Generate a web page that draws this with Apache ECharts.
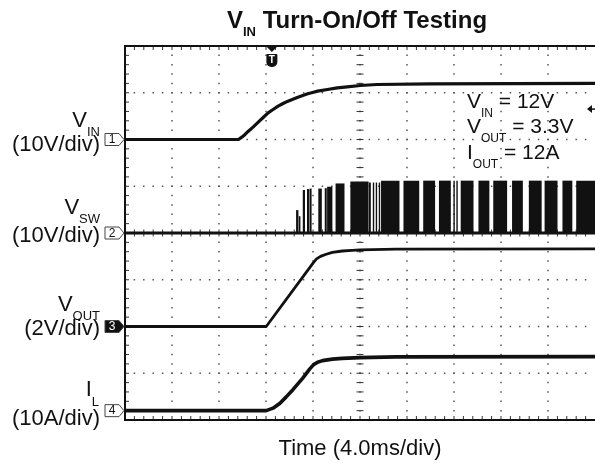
<!DOCTYPE html>
<html><head><meta charset="utf-8">
<script src="https://cdn.jsdelivr.net/npm/echarts@6/dist/echarts.min.js"></script>
<style>html,body{margin:0;padding:0;background:#fff}#c{width:595px;height:465px}</style>
</head><body><div id="c"></div>
<script>
// ---- data (time in ms, 4.0 ms/div) ----
const vinTime  = [0, 9.66, 9.94, 10.22, 10.5, 10.92, 11.34, 11.76, 12.18, 12.6, 13.03, 13.45, 13.87, 14.29, 14.71, 15.13, 15.55, 15.97, 16.39, 17.23, 18.07, 18.91, 20.03, 21.43, 26, 40];
const vinVolts = [0, 0, 0.5, 1.07, 1.78, 2.71, 3.71, 4.71, 5.7, 6.42, 7.13, 7.7, 8.2, 8.63, 9.06, 9.41, 9.77, 10.05, 10.34, 10.7, 11.05, 11.27, 11.55, 11.76, 11.9, 12.0];

const voutTime  = [0, 12.02, 16.05, 16.3, 16.64, 17.06, 17.65, 18.49, 19.33, 20.0, 23.1, 40];
const voutVolts = [0, 0, 2.74, 2.89, 3.0, 3.08, 3.17, 3.23, 3.26, 3.28, 3.31, 3.32];

const ilTime = [0, 12.02, 12.6, 13.19, 13.7, 14.29, 15.13, 15.71, 16.05, 16.39, 16.81, 17.65, 18.49, 20.0, 23.1, 40];
const ilAmps = [0, 0, 0.53, 1.6, 2.89, 4.49, 6.95, 8.88, 9.84, 10.37, 10.7, 11.02, 11.19, 11.34, 11.51, 11.55];

// switching node bursts: [start ms, end ms, volts]
const vswPulses = [
  [14.56,14.76,4.9],[14.79,14.93,3.6],
  [15.13,15.32,9.2],
  [15.49,15.69,9.4],[15.72,15.88,9.5],
  [16.45,16.75,9.5],
  [17.0,17.17,9.6],[17.2,17.65,9.9],
  [17.92,18.68,10.6],
  [19.18,20.73,11.0],
  [20.76,20.92,10.8],[21.09,21.18,10.8],[21.34,21.43,10.8],[21.6,21.68,10.8],
  [21.79,23.36,11.2],
  [23.70,25.04,11.2],
  [25.38,26.39,11.2],
  [26.72,27.73,11.2],
  [27.95,28.03,11.2],[28.2,28.28,11.2],
  [28.57,29.66,11.2],
  [30.08,31.01,11.2],
  [31.34,32.52,11.2],
  [32.94,33.86,11.2],
  [34.37,35.46,11.2],
  [35.71,36.81,11.2],
  [37.23,38.07,11.2],
  [38.40,40,11.2]
];

// channel settings: [offset in divisions, units per division]
const chVin  = [6, 10];
const chVsw  = [4, 10];
const chVout = [2, 2];
const chIl   = [0.2, 10];
const triggerTime = 12.5;
const triggerLevelDiv = 6.65;

const FONT = '"Liberation Sans", Arial, Helvetica, sans-serif';
const INK = '#111';

function toDiv(times, vals, ch){ return times.map((t,i)=>[t, ch[0] + vals[i]/ch[1]]); }

const mc = document.createElement('canvas').getContext('2d');
function tw(text, size, weight){ mc.font = (weight||'normal') + ' ' + size + 'px ' + FONT; return mc.measureText(text).width; }
function rich(parts, x, y, align){
  const total = parts.reduce((s,p)=>s+tw(p.t,p.s,p.w),0);
  let cx = align==='right' ? x-total : align==='center' ? x-total/2 : x;
  return parts.map(p=>{
    const el = {type:'text', z:20, silent:true, style:{text:p.t, x:cx, y:y+(p.dy||0),
      font:(p.w||'normal')+' '+p.s+'px '+FONT, textAlign:'left', textVerticalAlign:'middle',
      align:'left', verticalAlign:'middle', fill:INK}};
    cx += tw(p.t,p.s,p.w);
    return el;
  });
}

function graticule(params, api){
  const bl = api.coord([0,0]), tr = api.coord([40,8]);
  const x0=bl[0], yb=bl[1], x1=tr[0], yt=tr[1];
  const dx=(x1-x0)/10, dy=(yb-yt)/8;
  const ch=[];
  const dot='#555';
  for(let i=1;i<10;i++){ const x=x0+i*dx;
    for(let k=1;k<40;k++){ const y=yt+k*dy/5; ch.push({type:'rect',shape:{x:x-0.75,y:y-0.75,width:1.5,height:1.5},style:{fill:dot}}); } }
  for(let j=1;j<8;j++){ const y=yt+j*dy;
    for(let k=1;k<50;k++){ const x=x0+k*dx/5; ch.push({type:'rect',shape:{x:x-0.75,y:y-0.75,width:1.5,height:1.5},style:{fill:dot}}); } }
  const cx=x0+5*dx, cy=yt+4*dy;
  for(let k=1;k<40;k++){ const y=yt+k*dy/5;
    ch.push({type:'line',shape:{x1:cx-3.5,y1:y,x2:cx+3.5,y2:y},style:{stroke:'#333',lineWidth:1}}); }
  for(let k=1;k<50;k++){ const x=x0+k*dx/5;
    ch.push({type:'line',shape:{x1:x,y1:cy-3.5,x2:x,y2:cy+3.5},style:{stroke:'#333',lineWidth:1}});
    ch.push({type:'line',shape:{x1:x,y1:yt,x2:x,y2:yt+4},style:{stroke:'#333',lineWidth:1}});
    ch.push({type:'line',shape:{x1:x,y1:yb-4,x2:x,y2:yb},style:{stroke:'#333',lineWidth:1}}); }
  for(let k=1;k<40;k++){ const y=yt+k*dy/5;
    ch.push({type:'line',shape:{x1:x0,y1:y,x2:x0+4,y2:y},style:{stroke:'#333',lineWidth:1}}); }
  ch.push({type:'polyline',shape:{points:[[x1+3,yt],[x0,yt],[x0,yb],[x1+3,yb]]},style:{stroke:INK,lineWidth:2,fill:null}});
  return {type:'group', children:ch};
}

function pulses(params, api){
  const t0=api.value(0), t1=api.value(1), v=api.value(2);
  const a=api.coord([t0, chVsw[0]+v/chVsw[1]]), b=api.coord([t1, chVsw[0]]);
  return {type:'rect', shape:{x:a[0], y:a[1], width:Math.max(b[0]-a[0],1.4), height:b[1]-a[1]}, style:{fill:INK}};
}

const chart = echarts.init(document.getElementById('c'));
const lineBase = {type:'line', showSymbol:false, smooth:false, z:5, silent:true};
chart.setOption({
  animation:false,
  backgroundColor:'#fff',
  grid:{left:125, top:46, right:-6, bottom:45},
  xAxis:{type:'value', min:0, max:40, interval:4, show:false},
  yAxis:{type:'value', min:0, max:8, interval:1, show:false},
  series:[
    {type:'custom', data:[[0,0]], renderItem:graticule, silent:true, z:1, clip:false},
    Object.assign({}, lineBase, {name:'VIN', data:toDiv(vinTime, vinVolts, chVin), lineStyle:{color:INK, width:3.2, join:'round'}}),
    Object.assign({}, lineBase, {name:'VSW', data:toDiv([0,40],[0,0], chVsw), lineStyle:{color:INK, width:2.8}}),
    {type:'custom', name:'VSW pulses', data:vswPulses, renderItem:pulses, silent:true, z:4, clip:false, encode:{x:[0,1], y:2}},
    Object.assign({}, lineBase, {name:'VOUT', data:toDiv(voutTime, voutVolts, chVout), lineStyle:{color:INK, width:2.8, join:'round'}}),
    Object.assign({}, lineBase, {name:'IL', data:toDiv(ilTime, ilAmps, chIl), lineStyle:{color:INK, width:3.6, join:'round'}})
  ]
});

function marker(ch, label, filled){
  const p = chart.convertToPixel({gridIndex:0}, [0, ch[0]]);
  const xr = p[0]-1, y = p[1], xl = xr-19;
  return [
    {type:'polygon', z:20, silent:true, shape:{points:[[xl,y-6],[xr-5,y-6],[xr,y],[xr-5,y+6],[xl,y+6]]},
      style:{fill: filled?INK:'#fff', stroke:'#444', lineWidth:1}},
    {type:'text', z:21, silent:true, style:{text:label, x:xl+7, y:y+0.5, font:'12px '+FONT, textAlign:'center', textVerticalAlign:'middle', align:'center', verticalAlign:'middle', fill: filled?'#fff':INK}}
  ];
}

const tp = chart.convertToPixel({gridIndex:0}, [triggerTime, 8]);
const lp = chart.convertToPixel({gridIndex:0}, [40, triggerLevelDiv]);
const tx = tp[0], ty = tp[1];
const arrowX = 595;

let g = [];
g = g.concat(rich([{t:'V',s:24,w:'bold'},{t:'IN',s:13,w:'bold',dy:11},{t:' Turn-On/Off Testing',s:24,w:'bold'}], 357, 21, 'center'));
g = g.concat(rich([{t:'V',s:22},{t:'IN',s:13,dy:12}], 100, 120.5, 'right'));
g = g.concat(rich([{t:'(10V/div)',s:22}], 100, 145, 'right'));
g = g.concat(rich([{t:'V',s:22},{t:'SW',s:13,dy:12}], 100, 207.5, 'right'));
g = g.concat(rich([{t:'(10V/div)',s:22}], 100, 235.5, 'right'));
g = g.concat(rich([{t:'V',s:22},{t:'OUT',s:13,dy:12}], 100, 304.5, 'right'));
g = g.concat(rich([{t:'(2V/div)',s:22}], 100, 329, 'right'));
g = g.concat(rich([{t:'I',s:22},{t:'L',s:13,dy:12}], 99, 390, 'right'));
g = g.concat(rich([{t:'(10A/div)',s:22}], 100, 419, 'right'));
g = g.concat(rich([{t:'V',s:21},{t:'IN',s:12,dy:11.5},{t:' = 12V',s:21}], 467, 102, 'left'));
g = g.concat(rich([{t:'V',s:21},{t:'OUT',s:12,dy:11.5},{t:' = 3.3V',s:21}], 467, 127.5, 'left'));
g = g.concat(rich([{t:'I',s:21},{t:'OUT',s:12,dy:11.5},{t:' = 12A',s:21}], 467, 153, 'left'));
g = g.concat(rich([{t:'Time (4.0ms/div)',s:22}], 360, 449, 'center'));
g = g.concat(marker(chVin,'1',false), marker(chVsw,'2',false), marker(chVout,'3',true), marker(chIl,'4',false));
// trigger marker at top
g.push({type:'polygon', z:20, silent:true, shape:{points:[[tx-5,ty+1],[tx+5,ty+1],[tx,ty+6]]}, style:{fill:INK}});
g.push({type:'rect', z:20, silent:true, shape:{x:tx-5.5, y:ty+8, width:11, height:13, r:[1,1,5,5]}, style:{fill:INK}});
g.push({type:'text', z:21, silent:true, style:{text:'T', x:tx, y:ty+14, font:'bold 10px '+FONT, textAlign:'center', textVerticalAlign:'middle', align:'center', verticalAlign:'middle', fill:'#fff'}});
// trigger level arrow on right edge
g.push({type:'polygon', z:20, silent:true, shape:{points:[[arrowX-8,lp[1]],[arrowX-3,lp[1]-4],[arrowX-3,lp[1]+4]]}, style:{fill:INK}});
g.push({type:'line', z:20, silent:true, shape:{x1:arrowX-4,y1:lp[1],x2:arrowX,y2:lp[1]}, style:{stroke:INK, lineWidth:1.5}});
chart.setOption({graphic:g});
</script></body></html>
